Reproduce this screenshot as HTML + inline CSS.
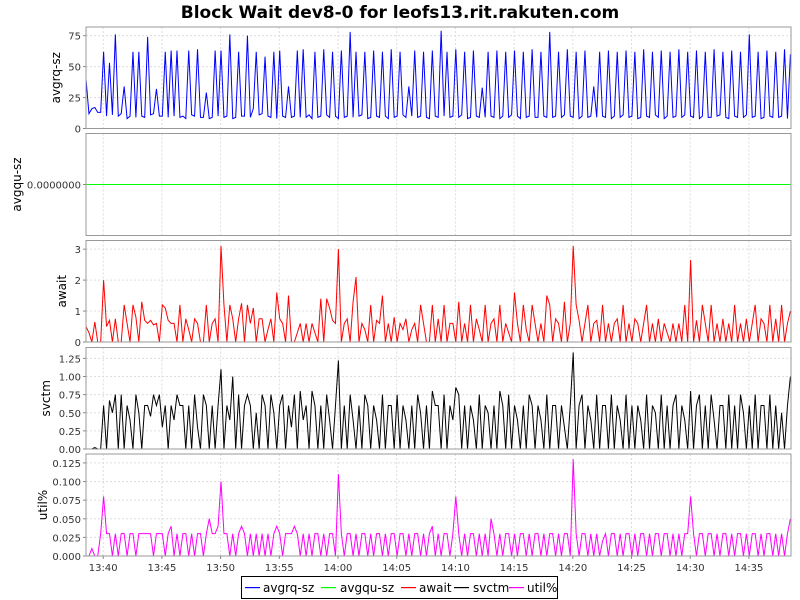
<!DOCTYPE html>
<html><head><meta charset="utf-8"><style>
html,body{margin:0;padding:0;background:#fff;}
svg{display:block;font-family:"DejaVu Sans","Liberation Sans",sans-serif;}
</style></head><body>
<svg id="chart" width="800" height="600" viewBox="0 0 800 600">
<rect width="800" height="600" fill="#fff"/>
<text x="400" y="18" text-anchor="middle" font-size="17" font-weight="bold" fill="#000">Block Wait dev8-0 for leofs13.rit.rakuten.com</text>
<g id="legend">
<rect x="241.5" y="576.5" width="316" height="22" fill="#fff" stroke="#000"/>
<g><rect x="245" y="587" width="15" height="1.2" fill="#0000ff"/><text x="263" y="592" font-size="12">avgrq-sz</text></g>
<g><rect x="321" y="587" width="15" height="1.2" fill="#00ff00"/><text x="340" y="592" font-size="12">avgqu-sz</text></g>
<g><rect x="401" y="587" width="15" height="1.2" fill="#ff0000"/><text x="419" y="592" font-size="12">await</text></g>
<g><rect x="454" y="587" width="15" height="1.2" fill="#000000"/><text x="473" y="592" font-size="12">svctm</text></g>
<g><rect x="509" y="587" width="15" height="1.2" fill="#ff00ff"/><text x="527" y="592" font-size="12">util%</text></g>
</g>
</svg>
<script>
const xTickLabels = ["13:40","13:45","13:50","13:55","14:00","14:05","14:10","14:15","14:20","14:25","14:30","14:35"];
const startSec = 13*3600+38*60+32;
const stepSec = 15;
const avgrq = [
40,12,16,17,13,13,62,10,53,11,76,10,12,34,8,10,62,9,62,10,
9,74,11,12,32,10,10,62,9,63,10,63,9,10,8,63,11,10,64,9,
9,29,8,9,63,10,63,9,10,76,8,9,62,10,10,75,9,16,62,11,
12,58,10,9,62,8,63,10,9,34,9,10,63,9,64,9,11,8,62,9,
10,64,11,9,62,10,8,63,9,10,78,9,62,10,11,62,8,9,63,10,
9,62,10,8,64,9,10,62,11,9,34,10,63,9,10,62,9,8,63,10,
9,79,10,62,9,10,64,9,11,62,8,9,63,10,9,33,9,62,10,9,
63,8,10,62,9,11,63,10,8,62,9,10,64,9,9,62,10,9,78,9,
10,62,9,11,64,10,9,62,8,10,63,9,10,34,9,62,10,9,63,8,
10,62,9,11,63,9,10,62,8,9,64,10,9,62,11,9,63,8,10,62,
9,10,64,9,11,62,10,9,63,8,10,62,9,9,64,10,11,62,9,8,
63,10,9,62,9,11,76,9,10,62,8,9,63,10,9,62,9,10,64,8,
60];
const avgqu = new Array(avgrq.length).fill(0);
const awaitV = [
0.5,0.3,0,0.65,0,0,2.0,0.5,0.7,0,0.75,0,0,1.2,0.6,0,1.2,0.8,0,1.3,
0.7,0.6,0.7,0.55,0.6,0,1.2,1.1,0.7,0.6,0.6,0,1.2,0,0.75,0.4,0,0.75,0.6,0,
0,1.2,0,0.6,0.75,0,3.1,1.2,0,1.2,0.75,0,0.75,1.25,0,1.2,0.6,1.1,0,0.75,
0.75,0,0.4,0.75,0,1.6,0.75,0.6,0,1.5,0,0,0.3,0.6,0,0.6,0,0.6,0.3,0,
1.4,0,1.4,1.1,0.7,0.6,3.0,0,0.6,0.75,0,1.3,2.1,0,0.6,0.4,0,1.2,0,0.7,
0.6,1.5,0,0.6,0,0.8,0,0.6,0.4,0.75,0,0.4,0.6,0,1.2,0.6,0,0,1.2,0,
0.75,0,1.2,0,0.6,0.6,0,1.3,0,0.6,0,1.2,0,0.75,0.4,0,1.2,0,0.6,0.75,
0,1.2,0,0.6,0.3,0,1.6,0.6,0,1.2,0.4,0,1.2,0.6,0,0.6,0,1.5,1.2,0,
0.75,0.6,0,1.3,0,0.6,3.1,1.2,0.7,0,0.6,1.2,0,0.6,0.7,0,1.2,0,0.6,0,
0.6,0.75,0,1.2,0,0.6,0,0.75,0.6,0,0.6,1.2,0,0.6,0,0.75,0,0.6,0.3,0,
0.6,0,0.6,0,1.2,0,2.65,0,0.7,0,1.2,0.6,0,1.2,0,0.6,0,0.75,0,0.6,
0,1.2,0,0.6,0,0.75,0,0.6,1.2,0,0.75,0.6,0,1.2,0,0.75,0,1.2,0,0.6,
1.0];
const svctm = [
0,0,0,0.02,0,0,0.6,0,0.67,0.5,0.75,0,0.75,0,0.6,0.4,0,0.75,0.5,0,
0.6,0.6,0.45,0.75,0.6,0.75,0.3,0.6,0,0.6,0.4,0.75,0.6,0.6,0,0.6,0,0.75,0.3,0,
0.75,0.6,0,0.6,0,0.6,1.1,0,0.6,0.4,1.0,0,0.75,0,0.6,0.75,0.6,0,0.5,0,
0.75,0.6,0,0.75,0.5,0,0.6,0.75,0,0.6,0.3,0.75,0,0.8,0.4,0.6,0,0.8,0.6,0,
0.6,0,0.75,0.4,0,0.6,1.22,0,0.6,0,0.75,0.4,0,0.6,0,0.75,0.6,0,0.6,0.4,
0,0.75,0,0.6,0.6,0,0.75,0,0.6,0.4,0,0.6,0,0.75,0.5,0,0.6,0,0.8,0.6,
0.6,0,0.75,0,0.6,0.4,0.85,0.75,0,0.6,0,0.6,0.4,0,0.75,0,0.6,0.5,0,0.6,
0,0.8,0.6,0,0.75,0,0.6,0.4,0,0.6,0,0.75,0.6,0,0.6,0.4,0,0.75,0,0.6,
0.6,0,0.6,0.3,0,0.6,1.33,0,0.6,0.75,0,0.6,0.4,0,0.75,0,0.6,0.6,0,0.75,
0,0.6,0.4,0,0.75,0,0.6,0,0.6,0.4,0,0.75,0,0.6,0.5,0,0.75,0,0.6,0,
0.6,0.75,0,0.6,0.4,0,0.8,0,0.6,0.75,0,0.6,0,0.75,0.4,0,0.6,0.6,0,0.75,
0,0.6,0,0.75,0.5,0,0.6,0,0.75,0,0.6,0.6,0,0.75,0,0.6,0,0.5,0,0.6,
1.0];
const util = [
0,0,0.01,0,0,0.03,0.08,0.03,0.03,0,0.03,0,0.03,0.03,0,0.03,0.03,0,0.03,0.03,
0.03,0.03,0.03,0,0.03,0.03,0.03,0,0.03,0.04,0,0.03,0,0.03,0.03,0,0.03,0,0.03,0.03,
0,0.03,0.05,0.03,0.03,0.04,0.1,0.03,0.03,0,0.03,0,0.03,0.04,0.03,0,0.03,0,0.03,0,
0.03,0,0.03,0,0.03,0.04,0.03,0,0.03,0.03,0.03,0.04,0.03,0,0.03,0,0.03,0,0.03,0.03,
0,0.03,0,0.03,0.03,0,0.11,0.03,0,0.03,0.03,0,0.03,0,0.03,0.03,0,0.03,0,0.03,
0.03,0,0.03,0,0.03,0.03,0,0.03,0.03,0,0.03,0,0.03,0.03,0,0.03,0,0.03,0.04,0,
0.03,0,0.03,0.03,0,0.03,0.08,0.03,0,0.03,0,0.03,0.03,0,0.03,0,0.03,0,0.05,0.03,
0,0.03,0,0.03,0.03,0,0.03,0,0.03,0.03,0,0.03,0,0.03,0.03,0,0.03,0,0.03,0.03,
0,0.03,0,0.03,0.03,0,0.13,0.03,0,0.03,0.03,0,0.03,0,0.03,0,0.02,0.03,0,0.03,
0.03,0,0.03,0,0.03,0.03,0,0.03,0,0.03,0.03,0,0.03,0,0.03,0.03,0,0.03,0.03,0,
0.03,0,0.03,0,0.03,0.03,0.08,0.03,0,0.03,0.03,0,0.03,0.03,0,0.03,0,0.03,0.03,0,
0.03,0,0.03,0.03,0,0.03,0,0.03,0.03,0,0.03,0,0.03,0.03,0,0.03,0,0.03,0,0.03,
0.05];
const ticks1 = [0,25,50,75];
const ticks2 = [0];
const ticks3 = [0,1,2,3];
const ticks4 = [0,0.25,0.5,0.75,1.0,1.25];
const ticks5 = [0,0.025,0.05,0.075,0.1,0.125];

const NS = "http://www.w3.org/2000/svg";
const svg = document.getElementById('chart');
const X0 = 86, X1 = 791;
const secPerPx = 60/11.74;
const xSec = s => X0 + (s - startSec)/secPerPx;
const xIdx = i => xSec(startSec + i*stepSec);
function mk(tag, attrs, parent){ const e=document.createElementNS(NS,tag); for(const k in attrs) e.setAttribute(k,attrs[k]); (parent||svg).appendChild(e); return e; }

const panels = [
 {name:'avgrq-sz', top:27, bot:128.5, min:0, max:82, ticks:ticks1, fmt:v=>String(v), data:avgrq, color:'#0000ff', lx:60},
 {name:'avgqu-sz', top:133.5, bot:235.5, min:-1, max:1, ticks:ticks2, fmt:v=>'0.0000000', data:avgqu, color:'#00ff00', lx:21},
 {name:'await', top:240.5, bot:342, min:0, max:3.28, ticks:ticks3, fmt:v=>String(v), data:awaitV, color:'#ff0000', lx:66},
 {name:'svctm', top:347.5, bot:449, min:0, max:1.40, ticks:ticks4, fmt:v=>v.toFixed(2), data:svctm, color:'#000000', lx:50},
 {name:'util%', top:454, bot:556, min:0, max:0.137, ticks:ticks5, fmt:v=>v.toFixed(3), data:util, color:'#ff00ff', lx:47}
];

panels.forEach((p,pi)=>{
  const g = mk('g',{});
  
  
  const y = v => p.bot - (v - p.min)/(p.max - p.min)*(p.bot - p.top);
  xTickLabels.forEach((lab,k)=>{
    const xs = xSec(13*3600+40*60 + k*300);
    const gl = mk('line',{x1:xs,x2:xs,y1:p.top,y2:p.bot,stroke:'#dcdcdc','stroke-dasharray':'2,2','stroke-width':1},g);
    
    
  });
  p.ticks.forEach(t=>{
    const yy = y(t);
    const gl = mk('line',{x1:X0,x2:X1,y1:yy,y2:yy,stroke:'#dcdcdc','stroke-dasharray':'2,2','stroke-width':1},g);
    
    
    const tk = mk('line',{x1:X0-3,x2:X0,y1:yy,y2:yy,stroke:'#888'},g);
    
    
    const tl = mk('text',{x:X0-5,y:yy+4,'text-anchor':'end','font-size':10,fill:'#333'},g);
    tl.textContent = p.fmt(t);
    
    
  });
  const pts = p.data.map((v,i)=>xIdx(i).toFixed(2)+','+y(v).toFixed(2)).join(' ');
  const line = mk('polyline',{points:pts,fill:'none',stroke:p.color,'stroke-width':1},g);
  
  
  const fr = mk('rect',{x:X0,y:p.top,width:X1-X0,height:p.bot-p.top,fill:'none',stroke:'#999','stroke-width':1},g);
  
  
  const cy = (p.top+p.bot)/2;
  const at = mk('text',{x:p.lx,y:cy,'text-anchor':'middle','font-size':12,fill:'#000',transform:`rotate(-90 ${p.lx} ${cy})`},g);
  at.textContent = p.name;
  
  
});

xTickLabels.forEach((lab,k)=>{
  const xs = xSec(13*3600+40*60 + k*300);
  const tk = mk('line',{x1:xs,x2:xs,y1:556,y2:559,stroke:'#888'});
  
  
  const t = mk('text',{x:xs,y:571,'text-anchor':'middle','font-size':10,fill:'#333'});
  t.textContent = lab;
  
  
});
</script>
</body></html>
